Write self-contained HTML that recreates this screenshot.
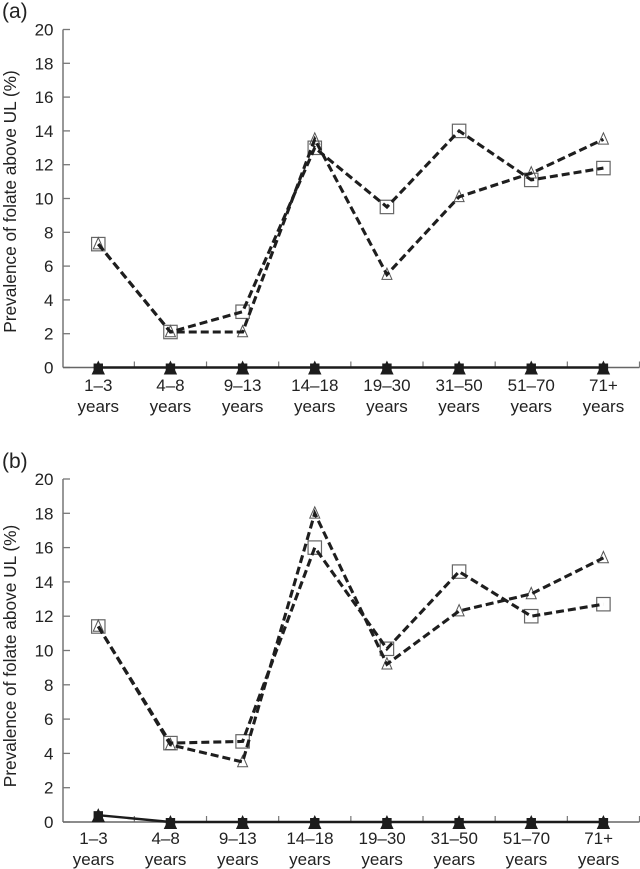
<!DOCTYPE html>
<html lang="en">
<head>
<meta charset="utf-8">
<title>Prevalence of folate above UL</title>
<style>
html,body{margin:0;padding:0;background:#fff;}
svg{display:block;}
text{font-family:"Liberation Sans",Arial,sans-serif;fill:#222;}
</style>
</head>
<body>
<svg id="chart" xmlns="http://www.w3.org/2000/svg" width="640" height="869" viewBox="0 0 640 869"></svg>
<script>
const categoriesTop = ['1–3', '4–8', '9–13', '14–18', '19–30', '31–50', '51–70', '71+'];
const categoriesBottom = ['years', 'years', 'years', 'years', 'years', 'years', 'years', 'years'];
const yTickLabels = [0, 2, 4, 6, 8, 10, 12, 14, 16, 18, 20];

const panelASquares = [7.3, 2.1, 3.3, 13.0, 9.5, 14.0, 11.1, 11.8];
const panelATriangles = [7.3, 2.1, 2.1, 13.5, 5.5, 10.1, 11.5, 13.5];
const panelABaseline = [0, 0, 0, 0, 0, 0, 0, 0];

const panelBSquares = [11.4, 4.6, 4.7, 16.0, 10.1, 14.6, 12.0, 12.7];
const panelBTriangles = [11.4, 4.5, 3.5, 18.0, 9.2, 12.3, 13.3, 15.4];
const panelBBaseline = [0.4, 0, 0, 0, 0, 0, 0, 0];

const NS = 'http://www.w3.org/2000/svg';
const root = document.getElementById('chart');

function make(parent, tag, attrs) {
  const el = document.createElementNS(NS, tag);
  for (const k in attrs) el.setAttribute(k, attrs[k]);
  parent.appendChild(el);
  return el;
}

function drawPanel(cfg) {
  const group = make(root, 'g', {});
  
  

  const xLeft = 62.7, xRight = 640;
  const band = (xRight - xLeft) / categoriesTop.length;
  const xScale = i => xLeft + band * (i + 0.5) - 0.5;
  const yScale = v => cfg.y0 + (cfg.y20 - cfg.y0) * v / 20;

  const title = make(group, 'text', {x: 2, y: cfg.titleY, 'font-size': 21});
  
  
  title.textContent = cfg.title;

  const yTitle = make(group, 'text', {
    transform: 'translate(16,' + cfg.yTitleMid + ') rotate(-90)',
    'text-anchor': 'middle', 'font-size': 17.3
  });
  
  
  yTitle.textContent = 'Prevalence of folate above UL (%)';

  const yAxis = make(group, 'line', {x1: 63, x2: 63, y1: yScale(20), y2: yScale(0), stroke: '#777', 'stroke-width': 1.5});
  
  

  yTickLabels.forEach(v => {
    const tick = make(group, 'line', {x1: 63, x2: 70, y1: yScale(v), y2: yScale(v), stroke: '#777', 'stroke-width': 1.3});
    
    
    const label = make(group, 'text', {x: 53.5, y: yScale(v) + 6, 'text-anchor': 'end', 'font-size': 17});
    
    
    label.textContent = v;
  });

  for (let i = 1; i <= categoriesTop.length; i++) {
    const tx = xLeft + band * i - 0.5;
    const tick = make(group, 'line', {x1: tx, x2: tx, y1: yScale(0), y2: yScale(0) - 6, stroke: '#777', 'stroke-width': 1.2});
    
    
  }

  const xAxis = make(group, 'line', {x1: 63, x2: 639.5, y1: yScale(0), y2: yScale(0), stroke: '#666', 'stroke-width': 1.6});
  
  

  categoriesTop.forEach((c, i) => {
    const l1 = make(group, 'text', {x: xScale(i) + cfg.labelShift, y: cfg.labelY1, 'text-anchor': 'middle', 'font-size': 17});
    
    
    l1.textContent = c;
    const l2 = make(group, 'text', {x: xScale(i) + cfg.labelShift, y: cfg.labelY2, 'text-anchor': 'middle', 'font-size': 17});
    
    
    l2.textContent = categoriesBottom[i];
  });

  const pointsOf = vals => vals.map((v, i) => xScale(i) + ',' + yScale(v)).join(' ');

  const baseLine = make(group, 'polyline', {points: pointsOf(cfg.baseline), fill: 'none', stroke: '#1c1c1c', 'stroke-width': 2.4});
  
  
  cfg.baseline.forEach((v, i) => {
    const x = xScale(i), y = yScale(v);
    const m = make(group, 'path', {d: 'M' + x + ' ' + (y - 7) + 'L' + (x + 6.7) + ' ' + (y + 7) + 'L' + (x - 6.7) + ' ' + (y + 7) + 'Z', fill: '#1c1c1c'});
    
    
    const r = make(group, 'rect', {x: x - 4.7, y: y - 4, width: 9.4, height: 10, fill: '#1c1c1c'});
    
    
  });

  cfg.squares.forEach((v, i) => {
    const x = xScale(i), y = yScale(v);
    const m = make(group, 'rect', {x: x - 6.7, y: y - 6.7, width: 13.4, height: 13.4, fill: '#fff', 'fill-opacity': 0.6, stroke: '#666', 'stroke-width': 1.2});
    
    
  });
  cfg.triangles.forEach((v, i) => {
    const x = xScale(i), y = yScale(v);
    const m = make(group, 'path', {d: 'M' + x + ' ' + (y - 6.5) + 'L' + (x + 5) + ' ' + (y + 4.8) + 'L' + (x - 5) + ' ' + (y + 4.8) + 'Z', fill: 'none', stroke: '#555', 'stroke-width': 1});
    
    
  });

  const sqLine = make(group, 'polyline', {points: pointsOf(cfg.squares), fill: 'none', stroke: '#1e1e1e', 'stroke-width': 3.1, 'stroke-dasharray': '8 4'});
  
  
  const triLine = make(group, 'polyline', {points: pointsOf(cfg.triangles), fill: 'none', stroke: '#1e1e1e', 'stroke-width': 3.1, 'stroke-dasharray': '8 4'});
  
  
}

drawPanel({
  name: 'panel-a', title: '(a)', titleY: 18, y20: 29.5, y0: 367.5,
  yTitleMid: 201.5, labelShift: 0, labelY1: 391, labelY2: 412,
  squares: panelASquares, triangles: panelATriangles, baseline: panelABaseline
});
drawPanel({
  name: 'panel-b', title: '(b)', titleY: 468, y20: 479, y0: 822,
  yTitleMid: 656, labelShift: -4.8, labelY1: 844, labelY2: 865,
  squares: panelBSquares, triangles: panelBTriangles, baseline: panelBBaseline
});
</script>
</body>
</html>
